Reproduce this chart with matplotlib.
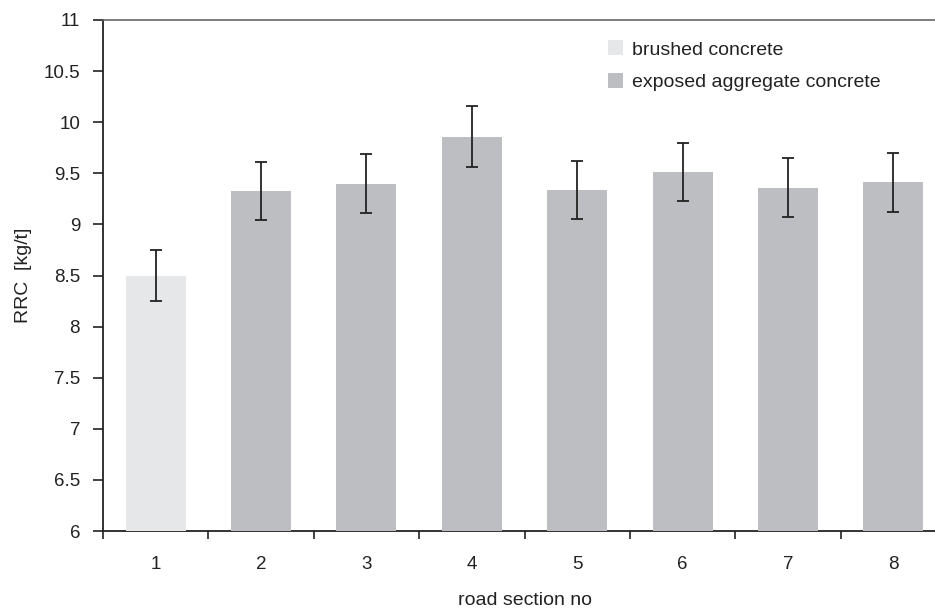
import matplotlib
matplotlib.use("Agg")
import matplotlib.pyplot as plt
from matplotlib.patches import Patch

# values
sections = [1, 2, 3, 4, 5, 6, 7, 8]
rrc = [8.50, 9.33, 9.40, 9.86, 9.34, 9.51, 9.36, 9.41]
rrc_err = [0.25, 0.285, 0.285, 0.30, 0.285, 0.285, 0.285, 0.285]
surface = ["brushed", "exposed", "exposed", "exposed", "exposed", "exposed", "exposed", "exposed"]
surface_labels = {"brushed": "brushed concrete", "exposed": "exposed aggregate concrete"}
colors = {"brushed": "#e6e7e9", "exposed": "#bdbec2"}
y_ticks = [6, 6.5, 7, 7.5, 8, 8.5, 9, 9.5, 10, 10.5, 11]

plt.rcParams["font.family"] = ["Liberation Sans", "DejaVu Sans"]
text_color = "#222222"

fig = plt.figure(figsize=(9.35, 6.13), dpi=100)
# axes runs past the right edge of the figure, as in the original
ax = fig.add_axes([103 / 935, 82 / 613, (946 - 103) / 935, 511 / 613])

bar_colors = [colors[s] for s in surface]
ax.bar(sections, rrc, width=0.57, color=bar_colors, zorder=3)
ax.errorbar(sections, rrc, yerr=rrc_err, fmt="none", ecolor=text_color,
            elinewidth=1.3, capsize=4, capthick=1.3, zorder=4)

ax.set_xlim(0.5, 8.5)
ax.set_ylim(6, 11)
ax.set_yticks(y_ticks)
ax.set_yticklabels([f"{t:g}" for t in y_ticks])

# major ticks between sections, labels on minor ticks at section centres
ax.set_xticks([s - 0.5 for s in sections])
ax.set_xticklabels([])
ax.set_xticks(sections, minor=True)
ax.set_xticklabels([str(s) for s in sections], minor=True)
ax.tick_params(axis="x", which="major", direction="out", length=6, width=1.2, color=text_color)
ax.tick_params(axis="x", which="minor", length=0, pad=18, labelsize=13.5, labelcolor=text_color)
ax.tick_params(axis="y", direction="out", length=7, width=1.2, color=text_color,
               pad=9.5, labelsize=13.5, labelcolor=text_color)

for side in ["left", "bottom"]:
    ax.spines[side].set_color(text_color)
    ax.spines[side].set_linewidth(1.3)
ax.spines["top"].set_color("#666666")
ax.spines["top"].set_linewidth(1.2)
ax.spines["right"].set_visible(False)

ax.set_xlabel("road section no", fontsize=14, color=text_color, labelpad=14)
ax.set_ylabel("RRC  [kg/t]", fontsize=14, color=text_color, labelpad=8)

handles = [Patch(facecolor=colors[k], edgecolor="none", label=surface_labels[k])
           for k in ["brushed", "exposed"]]
ax.legend(handles=handles, loc="upper left", bbox_to_anchor=(0.599, 0.960),
          frameon=False, fontsize=14, handlelength=0.78, handleheight=0.78,
          handletextpad=0.46, labelspacing=0.75, borderpad=0, borderaxespad=0,
          labelcolor=text_color)

fig.savefig("out.png", dpi=100)
plt.close(fig)
